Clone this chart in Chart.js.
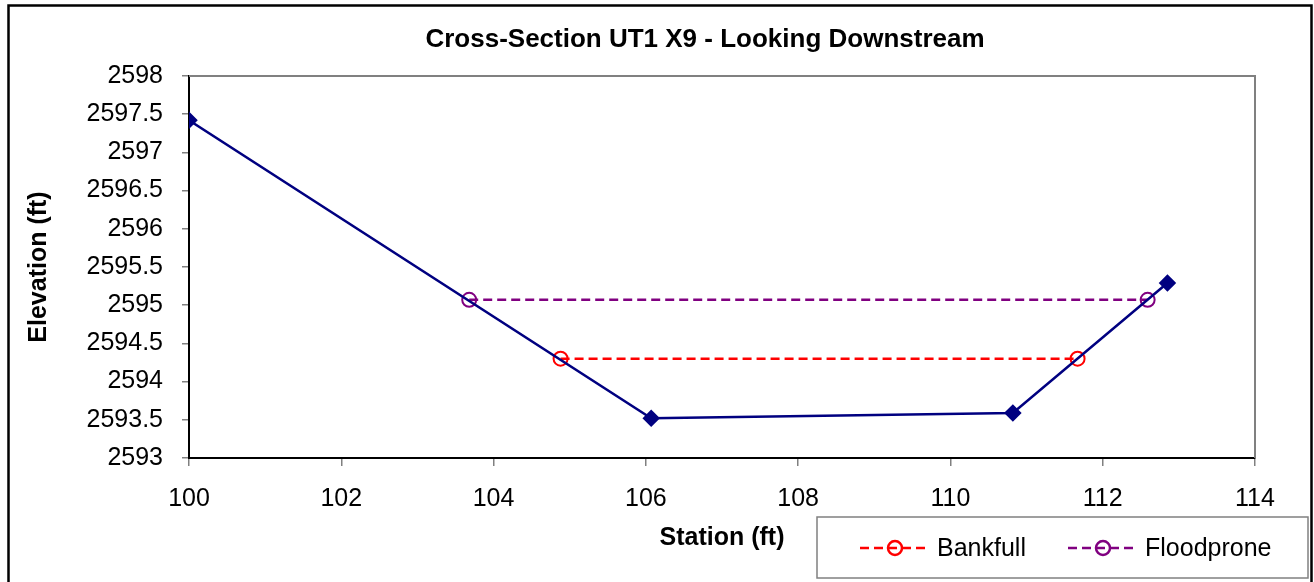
<!DOCTYPE html>
<html>
<head>
<meta charset="utf-8">
<title>Cross-Section UT1 X9</title>
<script src="https://cdn.jsdelivr.net/npm/chart.js@4.4.1/dist/chart.umd.min.js"></script>
<style>
  html, body { margin: 0; padding: 0; background: #fff; }
  #wrap { width: 1314px; height: 582px; position: relative; }
</style>
</head>
<body>
<div id="wrap"><canvas id="xsChart" width="1314" height="582"></canvas></div>
<script>
// Chart data
const chartTitle = 'Cross-Section UT1 X9 - Looking Downstream';
const xAxisTitle = 'Station (ft)';
const yAxisTitle = 'Elevation (ft)';

const groundStation = [100, 106.07, 110.82, 112.85];
const groundElevation = [2597.42, 2593.52, 2593.59, 2595.29];

const bankfullStation = [104.88, 111.67];
const bankfullElevation = [2594.30, 2594.30];

const floodproneStation = [103.68, 112.59];
const floodproneElevation = [2595.07, 2595.07];

const xTickValues = [100, 102, 104, 106, 108, 110, 112, 114];
const yTickValues = [2593, 2593.5, 2594, 2594.5, 2595, 2595.5, 2596, 2596.5, 2597, 2597.5, 2598];

const FONT = '"Liberation Sans", Arial, sans-serif';

function toPoints(xs, ys) {
    return xs.map((x, i) => ({ x: x, y: ys[i] }));
}

/**
 * Draws the frame, title, axis titles and the boxed legend
 */
const excelFrame = {
    id: 'excelFrame',
    afterDraw(chart) {
        const ctx = chart.ctx;
        const area = chart.chartArea;
        ctx.save();

        // gray top and right edges of the plot area
        ctx.strokeStyle = '#808080';
        ctx.lineWidth = 2;
        ctx.beginPath();
        ctx.moveTo(area.left, area.top);
        ctx.lineTo(area.right, area.top);
        ctx.lineTo(area.right, area.bottom);
        ctx.stroke();

        // outer chart border
        ctx.strokeStyle = '#000';
        ctx.lineWidth = 2.5;
        ctx.strokeRect(8.5, 5.5, 1303, 590);

        // titles
        ctx.fillStyle = '#000';
        ctx.textAlign = 'center';
        ctx.textBaseline = 'middle';
        ctx.font = 'bold 26px ' + FONT;
        ctx.fillText(chartTitle, 705, 40);
        ctx.font = 'bold 25px ' + FONT;
        ctx.fillText(xAxisTitle, (area.left + area.right) / 2, 538);
        ctx.save();
        ctx.translate(39, (area.top + area.bottom) / 2);
        ctx.rotate(-Math.PI / 2);
        ctx.fillText(yAxisTitle, 0, 0);
        ctx.restore();

        // legend box
        ctx.fillStyle = '#fff';
        ctx.fillRect(817, 517, 491, 61);
        ctx.strokeStyle = '#808080';
        ctx.lineWidth = 1.5;
        ctx.strokeRect(817, 517, 491, 61);

        const items = [
            { ds: chart.data.datasets[1], x: 860 },
            { ds: chart.data.datasets[2], x: 1068 }
        ];
        const ly = 548;
        ctx.font = '25px ' + FONT;
        ctx.textAlign = 'left';
        items.forEach(item => {
            ctx.strokeStyle = item.ds.borderColor;
            ctx.lineWidth = 2.5;
            ctx.setLineDash([9, 5]);
            ctx.beginPath();
            ctx.moveTo(item.x, ly);
            ctx.lineTo(item.x + 70, ly);
            ctx.stroke();
            ctx.setLineDash([]);
            ctx.fillStyle = '#fff';
            ctx.beginPath();
            ctx.arc(item.x + 35, ly, 7, 0, Math.PI * 2);
            ctx.stroke();
            ctx.fillStyle = '#000';
            ctx.fillText(item.ds.label, item.x + 77, ly + 1);
        });
        ctx.restore();
    }
};

const ctx = document.getElementById('xsChart');

new Chart(ctx, {
    type: 'scatter',
    data: {
        datasets: [
            {
                label: 'Ground',
                data: toPoints(groundStation, groundElevation),
                showLine: true,
                borderColor: '#000080',
                backgroundColor: '#000080',
                borderWidth: 2.5,
                pointStyle: 'rectRot',
                pointRadius: 7,
                pointHoverRadius: 7,
                tension: 0
            },
            {
                label: 'Bankfull',
                data: toPoints(bankfullStation, bankfullElevation),
                showLine: true,
                borderColor: '#ff0000',
                backgroundColor: 'rgba(0,0,0,0)',
                borderWidth: 2.5,
                borderDash: [9, 5],
                pointStyle: 'circle',
                pointRadius: 7,
                pointBorderWidth: 2,
                tension: 0
            },
            {
                label: 'Floodprone',
                data: toPoints(floodproneStation, floodproneElevation),
                showLine: true,
                borderColor: '#800080',
                backgroundColor: 'rgba(0,0,0,0)',
                borderWidth: 2.5,
                borderDash: [9, 5],
                pointStyle: 'circle',
                pointRadius: 7,
                pointBorderWidth: 2,
                tension: 0
            }
        ]
    },
    options: {
        responsive: false,
        animation: false,
        events: [],
        layout: {
            padding: { left: 0, right: 59, top: 76, bottom: 0 }
        },
        plugins: {
            legend: { display: false },
            title: { display: false },
            tooltip: { enabled: false }
        },
        scales: {
            x: {
                type: 'linear',
                min: 100,
                max: 114,
                afterBuildTicks: scale => {
                    scale.ticks = xTickValues.map(v => ({ value: v }));
                },
                afterFit: scale => { scale.height = 124; },
                grid: {
                    drawOnChartArea: false,
                    drawTicks: true,
                    tickLength: 8,
                    color: '#808080',
                    lineWidth: 1.5
                },
                border: { display: true, color: '#000', width: 2 },
                ticks: {
                    color: '#000',
                    padding: 18,
                    maxRotation: 0,
                    autoSkip: false,
                    font: { family: FONT, size: 25 },
                    callback: value => String(value)
                }
            },
            y: {
                type: 'linear',
                min: 2593,
                max: 2598,
                afterBuildTicks: scale => {
                    scale.ticks = yTickValues.map(v => ({ value: v }));
                },
                afterFit: scale => { scale.width = 189; },
                grid: {
                    drawOnChartArea: false,
                    drawTicks: true,
                    tickLength: 7,
                    color: '#808080',
                    lineWidth: 1.5
                },
                border: { display: true, color: '#000', width: 2 },
                ticks: {
                    color: '#000',
                    padding: 19,
                    autoSkip: false,
                    font: { family: FONT, size: 25 },
                    callback: value => String(value)
                }
            }
        }
    },
    plugins: [excelFrame]
});
</script>
</body>
</html>
